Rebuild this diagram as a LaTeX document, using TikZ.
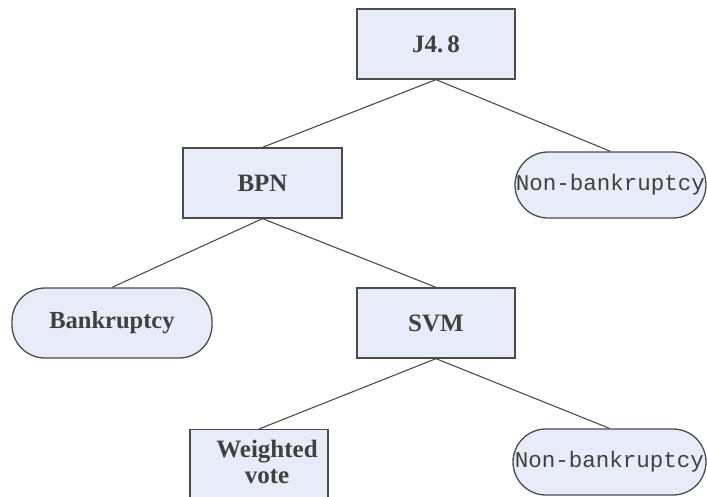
\documentclass[tikz,border=0pt]{standalone}
\usepackage{fontspec}
\setmainfont{Liberation Serif}
\newfontfamily\monofam{Liberation Mono}
\begin{document}
\begin{tikzpicture}[x=1pt,y=-1pt,
  ink/.style={draw=black!70,line width=1.3pt},
  boxnode/.style={ink,fill=boxfill,rectangle,text=black!75,
    font=\fontsize{25}{28}\selectfont\bfseries,align=center,inner sep=0pt},
  leafnode/.style={ink,fill=boxfill,rectangle,rounded corners=33pt,text=black!75,
    font=\monofam\fontsize{22.5}{24}\selectfont,inner sep=0pt},
  edge/.style={draw=black!70,line width=1.1pt}]
\definecolor{boxfill}{HTML}{E8ECF8}
\useasboundingbox (0,0) rectangle (707,497);
% decision tree nodes
\node[boxnode,minimum width=158pt,minimum height=70pt] (j48) at (436,44) {J4.\,8};
\node[boxnode,minimum width=159pt,minimum height=70pt] (bpn) at (262.5,183) {BPN};
\node[leafnode,minimum width=191pt,minimum height=66pt] (nb1) at (610.5,185) {Non-bankruptcy};
\node[leafnode,minimum width=200pt,minimum height=70pt,
      font=\fontsize{24.5}{27}\selectfont\bfseries] (bk) at (112,323) {Bankruptcy};
\node[boxnode,minimum width=158pt,minimum height=70pt] (svm) at (436,323) {SVM};
\node[boxnode,minimum width=138pt,minimum height=80pt,anchor=north] (wv) at (259,429) {};
\node[font=\fontsize{25}{28}\selectfont\bfseries,text=black!75,align=center,inner sep=0pt]
  (wvtext) at (267,462) {Weighted\\[-2pt]vote};
\node[leafnode,minimum width=193pt,minimum height=66pt] (nb2) at (609.5,462) {Non-bankruptcy};
% branches
\draw[edge] (j48.south) -- (bpn.north);
\draw[edge] (j48.south) -- (nb1.north);
\draw[edge] (bpn.south) -- (bk.north);
\draw[edge] (bpn.south) -- (svm.north);
\draw[edge] (svm.south) -- (wv.north);
\draw[edge] (svm.south) -- (nb2.north);
\end{tikzpicture}
\end{document}
